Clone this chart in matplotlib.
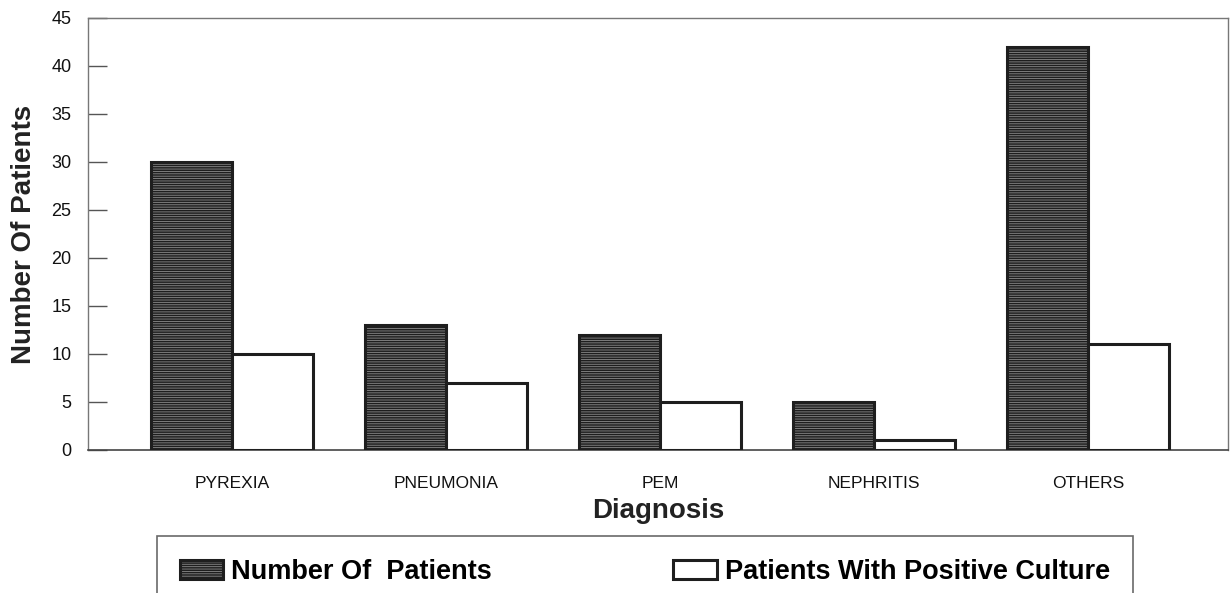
import matplotlib
matplotlib.use("Agg")
import matplotlib.pyplot as plt
import numpy as np

categories = ["PYREXIA", "PNEUMONIA", "PEM", "NEPHRITIS", "OTHERS"]
num_patients = [30, 13, 12, 5, 42]
positive_culture = [10, 7, 5, 1, 11]
series_labels = ["Number Of  Patients", "Patients With Positive Culture"]
yticks = [0, 5, 10, 15, 20, 25, 30, 35, 40, 45]

plt.rcParams['font.family'] = ['Liberation Sans', 'DejaVu Sans']
plt.rcParams['hatch.color'] = '#2e2e2e'
plt.rcParams['hatch.linewidth'] = 1.1

fig = plt.figure(figsize=(12.3, 5.93), dpi=100)
ax = fig.add_axes([88/1230, 1-450/593, (1228-88)/1230, (450-18)/593])

x = np.arange(len(categories))
w = 0.38
ax.bar(x - w/2, num_patients, width=w, facecolor='#8a8a8a', edgecolor='#1e1e1e',
       linewidth=2.2, hatch='-------', label=series_labels[0], zorder=3)
ax.bar(x + w/2, positive_culture, width=w, facecolor='white', edgecolor='#1e1e1e',
       linewidth=2.2, label=series_labels[1], zorder=3)

ax.set_xlim(-0.673, 4.654)
ax.set_ylim(0, 45)
ax.set_yticks(yticks)
ax.tick_params(axis='y', direction='in', length=14, width=1, color='#555555',
               labelsize=13, pad=12, labelcolor='#111111')
ax.set_xticks(x)
ax.set_xticklabels(categories)
ax.tick_params(axis='x', length=0, labelsize=12.5, pad=19, labelcolor='#111111')
for s in ['top', 'right', 'left']:
    ax.spines[s].set_color('#777777')
    ax.spines[s].set_linewidth(1.0)
ax.spines['bottom'].set_color('#444444')
ax.spines['bottom'].set_linewidth(1.2)

ax.set_xlabel("Diagnosis", fontsize=20, fontweight='bold', labelpad=5, color='#222222')
ax.set_ylabel("Number Of Patients", fontsize=20, fontweight='bold', color='#222222')
ax.yaxis.set_label_coords(-0.0445, 0.5)

handles, labels = ax.get_legend_handles_labels()
leg = fig.legend(handles, labels, loc='upper left', ncol=2, mode='expand',
                 bbox_to_anchor=(157/1230, 1-537/593, (1133-157)/1230, 0.001),
                 prop={'weight': 'bold', 'size': 19.5}, frameon=True, fancybox=False,
                 edgecolor='#444444', handlelength=1.6, handleheight=0.7,
                 handletextpad=0.3, borderpad=0.85, borderaxespad=0.0)
leg.get_frame().set_linewidth(1.2)

fig.savefig("out.png", dpi=100, facecolor='white')
